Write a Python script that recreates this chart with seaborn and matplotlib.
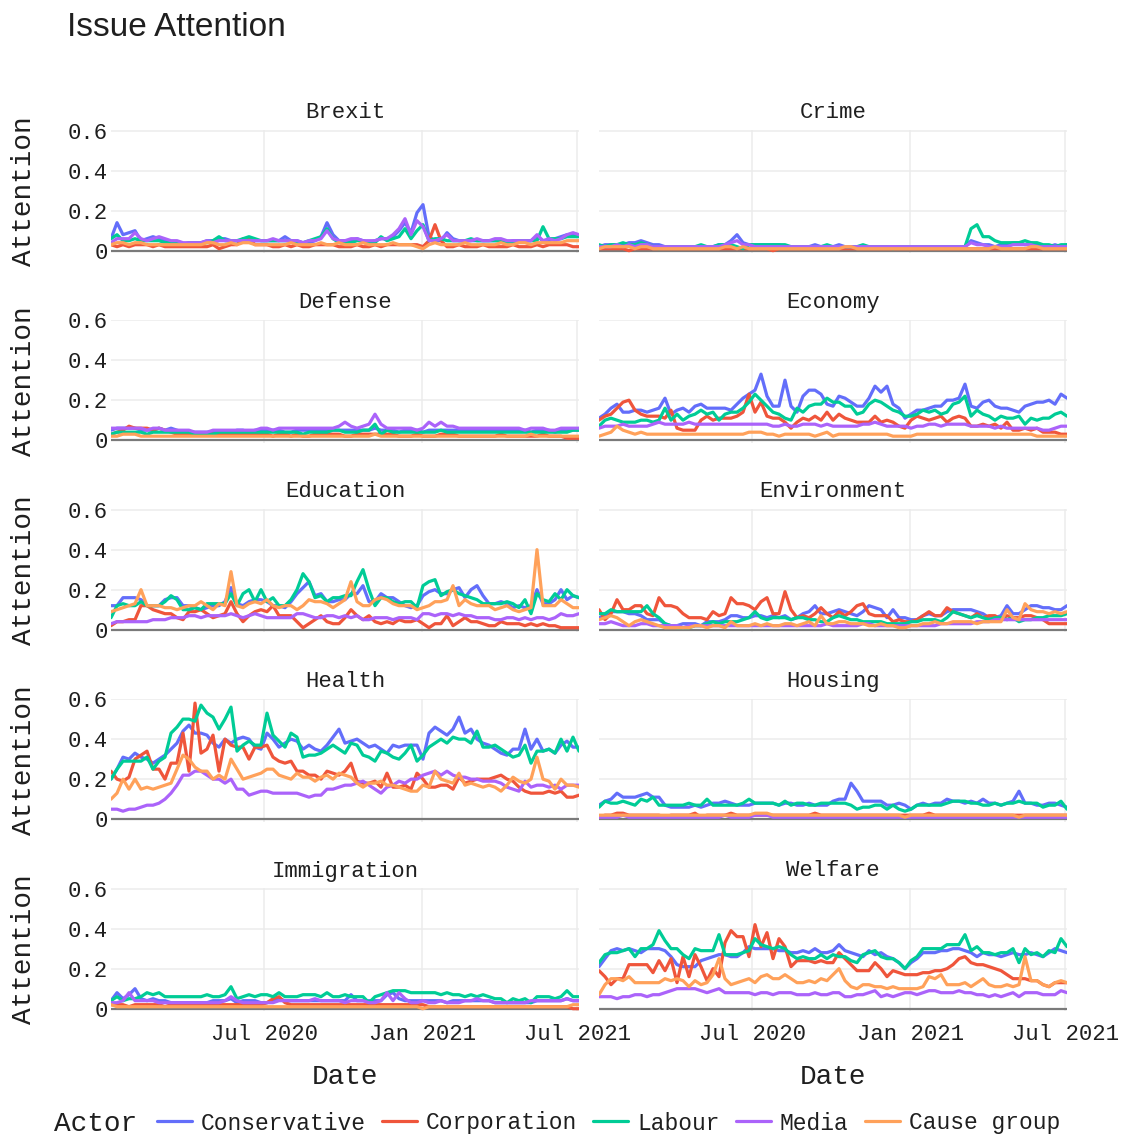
import matplotlib
matplotlib.use("Agg")
import matplotlib.pyplot as plt
from matplotlib.lines import Line2D
from matplotlib.font_manager import FontProperties
import pandas as pd
import seaborn as sns

# ---------------------------------------------------------------- data
weeks = pd.date_range("2020-01-04", periods=79, freq="7D")
actors = ["Conservative", "Corporation", "Labour", "Media", "Cause group"]
topics = ["Brexit", "Crime", "Defense", "Economy", "Education",
          "Environment", "Health", "Housing", "Immigration", "Welfare"]
actor_colors = ["#636EFA", "#EF553B", "#00CC96", "#AB63FA", "#FFA15A"]
y_ticks = [0, 0.2, 0.4, 0.6]
y_tick_labels = ["0", "0.2", "0.4", "0.6"]
x_ticks = ["2020-07-01", "2021-01-01", "2021-07-01"]
x_tick_labels = ["Jul 2020", "Jan 2021", "Jul 2021"]

brexit_conservative = [0.06,0.14,0.08,0.09,0.10,0.05,0.06,0.07,0.06,0.05,
    0.04,0.04,0.03,0.04,0.04,0.04,0.05,0.05,0.06,0.06,
    0.05,0.05,0.05,0.05,0.05,0.05,0.05,0.05,0.05,0.07,
    0.05,0.05,0.04,0.04,0.05,0.07,0.14,0.08,0.05,0.05,
    0.05,0.06,0.05,0.04,0.05,0.06,0.06,0.07,0.10,0.14,
    0.09,0.19,0.23,0.07,0.05,0.05,0.09,0.06,0.05,0.05,
    0.05,0.05,0.05,0.05,0.05,0.05,0.04,0.05,0.05,0.05,
    0.05,0.07,0.05,0.05,0.06,0.07,0.08,0.08,0.08]
brexit_corporation = [0.03,0.02,0.03,0.02,0.03,0.03,0.03,0.02,0.03,0.02,
    0.02,0.02,0.02,0.02,0.02,0.02,0.02,0.03,0.01,0.02,
    0.03,0.03,0.06,0.06,0.03,0.03,0.03,0.02,0.02,0.03,
    0.02,0.03,0.02,0.02,0.03,0.03,0.03,0.03,0.02,0.02,
    0.02,0.03,0.02,0.02,0.03,0.02,0.03,0.03,0.03,0.03,
    0.03,0.03,0.02,0.05,0.13,0.05,0.02,0.02,0.03,0.02,
    0.02,0.02,0.03,0.02,0.02,0.02,0.02,0.03,0.02,0.02,
    0.02,0.03,0.02,0.03,0.03,0.03,0.03,0.02,0.02]
brexit_labour = [0.06,0.08,0.05,0.05,0.06,0.05,0.05,0.05,0.05,0.04,
    0.04,0.04,0.03,0.04,0.04,0.04,0.04,0.05,0.07,0.05,
    0.05,0.05,0.06,0.07,0.06,0.05,0.05,0.05,0.05,0.05,
    0.05,0.04,0.04,0.05,0.06,0.07,0.11,0.06,0.04,0.04,
    0.04,0.05,0.05,0.04,0.04,0.07,0.05,0.06,0.07,0.11,
    0.06,0.10,0.13,0.05,0.06,0.06,0.05,0.05,0.05,0.05,
    0.06,0.05,0.05,0.05,0.05,0.05,0.04,0.04,0.05,0.05,
    0.05,0.05,0.12,0.06,0.06,0.06,0.07,0.07,0.07]
brexit_media = [0.04,0.06,0.06,0.06,0.09,0.06,0.05,0.06,0.07,0.06,
    0.05,0.05,0.04,0.04,0.04,0.04,0.05,0.04,0.05,0.05,
    0.05,0.05,0.05,0.05,0.05,0.05,0.05,0.06,0.05,0.05,
    0.05,0.05,0.04,0.05,0.05,0.06,0.10,0.06,0.05,0.05,
    0.06,0.06,0.05,0.05,0.05,0.06,0.06,0.08,0.11,0.16,
    0.08,0.15,0.12,0.05,0.05,0.06,0.08,0.05,0.05,0.05,
    0.05,0.06,0.05,0.05,0.06,0.06,0.05,0.05,0.05,0.05,
    0.05,0.08,0.05,0.06,0.05,0.06,0.08,0.09,0.08]
brexit_cause = [0.03,0.04,0.04,0.03,0.04,0.04,0.03,0.03,0.03,0.03,
    0.03,0.03,0.03,0.03,0.03,0.03,0.04,0.04,0.03,0.03,
    0.04,0.03,0.04,0.04,0.03,0.03,0.03,0.03,0.03,0.03,
    0.04,0.03,0.03,0.03,0.03,0.04,0.03,0.03,0.04,0.03,
    0.03,0.03,0.04,0.03,0.03,0.03,0.03,0.04,0.03,0.03,
    0.03,0.02,0.01,0.03,0.04,0.03,0.03,0.03,0.03,0.04,
    0.03,0.03,0.03,0.03,0.03,0.04,0.03,0.03,0.04,0.04,
    0.03,0.04,0.04,0.04,0.04,0.04,0.05,0.05,0.05]

crime_conservative = [0.02,0.03,0.03,0.03,0.03,0.04,0.04,0.05,0.04,0.03,
    0.03,0.02,0.02,0.02,0.02,0.02,0.02,0.02,0.02,0.02,
    0.03,0.03,0.05,0.08,0.04,0.03,0.03,0.03,0.03,0.03,
    0.03,0.02,0.02,0.02,0.02,0.02,0.03,0.02,0.02,0.02,
    0.03,0.02,0.02,0.02,0.02,0.02,0.02,0.02,0.02,0.02,
    0.02,0.02,0.02,0.02,0.02,0.02,0.02,0.02,0.02,0.02,
    0.02,0.02,0.05,0.04,0.03,0.03,0.02,0.03,0.03,0.04,
    0.04,0.03,0.04,0.03,0.02,0.02,0.03,0.02,0.03]
crime_corporation = [0.01,0.01,0.01,0.01,0.01,0.00,0.01,0.01,0.01,0.01,
    0.01,0.01,0.01,0.01,0.01,0.01,0.01,0.01,0.01,0.01,
    0.01,0.01,0.01,0.01,0.01,0.01,0.01,0.01,0.01,0.00,
    0.01,0.01,0.01,0.01,0.01,0.01,0.01,0.01,0.01,0.01,
    0.01,0.01,0.01,0.01,0.01,0.01,0.01,0.01,0.01,0.01,
    0.01,0.01,0.01,0.01,0.01,0.01,0.01,0.01,0.01,0.01,
    0.01,0.01,0.01,0.01,0.01,0.01,0.01,0.01,0.01,0.01,
    0.01,0.01,0.01,0.01,0.01,0.01,0.01,0.01,0.01]
crime_labour = [0.03,0.02,0.03,0.03,0.04,0.03,0.03,0.04,0.03,0.02,
    0.01,0.02,0.02,0.02,0.02,0.02,0.02,0.03,0.02,0.02,
    0.03,0.03,0.03,0.02,0.01,0.03,0.03,0.03,0.03,0.03,
    0.03,0.03,0.02,0.02,0.02,0.02,0.02,0.02,0.03,0.02,
    0.02,0.02,0.02,0.02,0.03,0.02,0.02,0.02,0.02,0.01,
    0.02,0.02,0.02,0.02,0.02,0.02,0.02,0.02,0.02,0.02,
    0.02,0.02,0.11,0.13,0.07,0.07,0.05,0.04,0.04,0.04,
    0.04,0.05,0.04,0.04,0.03,0.03,0.02,0.03,0.03]
crime_media = [0.02,0.02,0.02,0.03,0.02,0.03,0.02,0.03,0.03,0.02,
    0.02,0.02,0.02,0.02,0.02,0.02,0.02,0.02,0.02,0.02,
    0.02,0.03,0.04,0.05,0.03,0.03,0.02,0.02,0.02,0.02,
    0.02,0.02,0.02,0.02,0.02,0.02,0.02,0.02,0.02,0.02,
    0.02,0.02,0.02,0.02,0.02,0.02,0.02,0.02,0.02,0.02,
    0.02,0.02,0.02,0.02,0.02,0.02,0.02,0.02,0.02,0.02,
    0.02,0.02,0.04,0.03,0.03,0.02,0.02,0.02,0.02,0.03,
    0.03,0.03,0.03,0.02,0.02,0.02,0.02,0.02,0.02]
crime_cause = [0.01,0.02,0.02,0.02,0.02,0.02,0.01,0.02,0.02,0.01,
    0.01,0.01,0.01,0.01,0.01,0.01,0.01,0.01,0.01,0.01,
    0.01,0.02,0.02,0.01,0.02,0.01,0.01,0.01,0.01,0.01,
    0.01,0.01,0.01,0.01,0.01,0.01,0.01,0.01,0.01,0.01,
    0.01,0.02,0.02,0.01,0.01,0.01,0.01,0.01,0.01,0.01,
    0.01,0.01,0.01,0.01,0.01,0.01,0.01,0.01,0.01,0.01,
    0.01,0.01,0.01,0.01,0.01,0.01,0.02,0.01,0.01,0.01,
    0.01,0.01,0.02,0.02,0.01,0.01,0.01,0.01,0.01]

defense_conservative = [0.05,0.06,0.06,0.06,0.06,0.05,0.05,0.05,0.06,0.05,
    0.06,0.05,0.04,0.04,0.04,0.04,0.04,0.04,0.04,0.04,
    0.04,0.05,0.05,0.04,0.05,0.05,0.05,0.05,0.05,0.04,
    0.04,0.05,0.05,0.05,0.05,0.05,0.05,0.05,0.05,0.05,
    0.05,0.05,0.05,0.05,0.06,0.05,0.05,0.05,0.04,0.05,
    0.05,0.05,0.04,0.05,0.05,0.05,0.05,0.05,0.05,0.05,
    0.05,0.05,0.05,0.05,0.05,0.05,0.05,0.05,0.05,0.05,
    0.04,0.05,0.05,0.05,0.04,0.05,0.05,0.05,0.05]
defense_corporation = [0.03,0.04,0.05,0.07,0.06,0.06,0.06,0.05,0.06,0.05,
    0.04,0.03,0.03,0.03,0.03,0.03,0.03,0.03,0.03,0.03,
    0.03,0.03,0.03,0.03,0.03,0.03,0.03,0.02,0.03,0.03,
    0.02,0.03,0.02,0.02,0.03,0.03,0.03,0.03,0.03,0.02,
    0.02,0.03,0.03,0.03,0.03,0.03,0.03,0.03,0.02,0.02,
    0.02,0.03,0.02,0.02,0.02,0.03,0.03,0.03,0.02,0.02,
    0.02,0.02,0.02,0.02,0.02,0.03,0.02,0.02,0.02,0.02,
    0.02,0.02,0.03,0.02,0.02,0.02,0.01,0.01,0.01]
defense_labour = [0.03,0.04,0.04,0.04,0.04,0.04,0.03,0.04,0.04,0.04,
    0.04,0.04,0.04,0.04,0.03,0.03,0.03,0.03,0.04,0.04,
    0.04,0.04,0.04,0.04,0.04,0.04,0.04,0.04,0.04,0.04,
    0.04,0.04,0.03,0.04,0.04,0.04,0.04,0.05,0.05,0.04,
    0.04,0.04,0.05,0.05,0.08,0.03,0.05,0.04,0.04,0.04,
    0.04,0.04,0.04,0.04,0.04,0.05,0.04,0.04,0.04,0.04,
    0.04,0.04,0.04,0.04,0.04,0.04,0.04,0.04,0.04,0.04,
    0.04,0.04,0.04,0.04,0.04,0.04,0.04,0.05,0.05]
defense_media = [0.06,0.06,0.06,0.06,0.06,0.06,0.05,0.06,0.06,0.05,
    0.05,0.05,0.05,0.05,0.04,0.04,0.04,0.05,0.05,0.05,
    0.05,0.05,0.05,0.05,0.05,0.06,0.06,0.05,0.06,0.06,
    0.06,0.06,0.06,0.06,0.06,0.06,0.06,0.06,0.07,0.09,
    0.07,0.06,0.07,0.08,0.13,0.08,0.06,0.06,0.06,0.06,
    0.06,0.05,0.06,0.09,0.07,0.09,0.07,0.07,0.06,0.06,
    0.06,0.06,0.06,0.06,0.06,0.06,0.06,0.06,0.06,0.05,
    0.06,0.06,0.06,0.05,0.05,0.06,0.06,0.06,0.06]
defense_cause = [0.02,0.02,0.03,0.03,0.03,0.02,0.02,0.02,0.02,0.02,
    0.02,0.02,0.02,0.02,0.02,0.02,0.02,0.02,0.02,0.02,
    0.02,0.02,0.02,0.02,0.02,0.02,0.02,0.02,0.02,0.02,
    0.02,0.02,0.02,0.02,0.02,0.02,0.02,0.02,0.02,0.02,
    0.02,0.02,0.02,0.02,0.03,0.02,0.02,0.02,0.02,0.02,
    0.02,0.02,0.02,0.02,0.02,0.02,0.02,0.02,0.02,0.02,
    0.02,0.02,0.02,0.02,0.02,0.02,0.02,0.02,0.02,0.02,
    0.03,0.02,0.02,0.02,0.02,0.02,0.02,0.02,0.02]

economy_conservative = [0.11,0.13,0.16,0.18,0.14,0.14,0.15,0.15,0.14,0.15,
    0.16,0.21,0.13,0.15,0.16,0.14,0.17,0.18,0.16,0.16,
    0.16,0.16,0.15,0.18,0.21,0.23,0.25,0.33,0.22,0.17,
    0.17,0.30,0.17,0.14,0.22,0.25,0.25,0.23,0.18,0.17,
    0.22,0.21,0.19,0.17,0.17,0.21,0.27,0.24,0.27,0.18,
    0.16,0.11,0.13,0.15,0.15,0.16,0.17,0.17,0.20,0.20,
    0.21,0.28,0.17,0.16,0.19,0.20,0.17,0.16,0.16,0.15,
    0.14,0.17,0.18,0.19,0.19,0.20,0.18,0.23,0.21]
economy_corporation = [0.10,0.12,0.13,0.16,0.19,0.20,0.15,0.13,0.12,0.12,
    0.12,0.11,0.15,0.06,0.05,0.05,0.05,0.10,0.12,0.10,
    0.11,0.11,0.11,0.12,0.14,0.23,0.14,0.19,0.12,0.11,
    0.11,0.09,0.06,0.09,0.11,0.10,0.12,0.10,0.14,0.10,
    0.13,0.11,0.10,0.09,0.09,0.09,0.12,0.09,0.10,0.09,
    0.07,0.06,0.10,0.12,0.11,0.10,0.11,0.12,0.09,0.11,
    0.12,0.11,0.07,0.07,0.08,0.07,0.08,0.06,0.09,0.05,
    0.05,0.06,0.05,0.06,0.04,0.04,0.04,0.03,0.03]
economy_labour = [0.07,0.10,0.11,0.10,0.09,0.09,0.09,0.10,0.10,0.09,
    0.10,0.16,0.10,0.13,0.10,0.12,0.13,0.15,0.13,0.14,
    0.10,0.13,0.14,0.14,0.16,0.19,0.23,0.20,0.17,0.14,
    0.13,0.11,0.10,0.16,0.14,0.17,0.18,0.18,0.21,0.19,
    0.19,0.17,0.17,0.13,0.14,0.18,0.20,0.19,0.17,0.15,
    0.14,0.12,0.12,0.13,0.15,0.14,0.15,0.13,0.14,0.18,
    0.19,0.22,0.12,0.15,0.13,0.12,0.10,0.12,0.11,0.11,
    0.12,0.08,0.11,0.10,0.11,0.11,0.13,0.14,0.12]
economy_media = [0.06,0.07,0.07,0.07,0.08,0.07,0.07,0.07,0.07,0.08,
    0.09,0.08,0.08,0.08,0.08,0.09,0.08,0.08,0.08,0.08,
    0.08,0.08,0.08,0.08,0.08,0.08,0.08,0.08,0.08,0.07,
    0.07,0.08,0.07,0.07,0.08,0.08,0.08,0.07,0.08,0.07,
    0.07,0.07,0.07,0.07,0.08,0.08,0.09,0.08,0.07,0.07,
    0.07,0.07,0.06,0.07,0.07,0.08,0.08,0.07,0.08,0.08,
    0.08,0.08,0.07,0.07,0.07,0.07,0.06,0.07,0.06,0.06,
    0.06,0.06,0.06,0.06,0.05,0.05,0.06,0.07,0.07]
economy_cause = [0.02,0.03,0.04,0.07,0.05,0.04,0.03,0.04,0.03,0.03,
    0.03,0.03,0.03,0.03,0.03,0.03,0.03,0.03,0.03,0.03,
    0.03,0.03,0.03,0.03,0.03,0.04,0.04,0.04,0.03,0.03,
    0.02,0.03,0.03,0.03,0.03,0.03,0.02,0.03,0.04,0.02,
    0.03,0.03,0.03,0.03,0.03,0.03,0.03,0.03,0.03,0.02,
    0.02,0.02,0.02,0.03,0.03,0.03,0.03,0.03,0.03,0.03,
    0.03,0.03,0.03,0.03,0.03,0.03,0.03,0.03,0.03,0.03,
    0.03,0.03,0.03,0.02,0.02,0.02,0.02,0.02,0.02]

education_conservative = [0.12,0.12,0.16,0.16,0.16,0.15,0.12,0.12,0.12,0.15,
    0.16,0.16,0.12,0.12,0.11,0.10,0.11,0.12,0.12,0.14,
    0.21,0.13,0.12,0.14,0.15,0.15,0.14,0.12,0.12,0.11,
    0.14,0.18,0.21,0.24,0.17,0.18,0.14,0.14,0.15,0.15,
    0.18,0.18,0.22,0.14,0.14,0.18,0.16,0.16,0.14,0.12,
    0.11,0.12,0.17,0.19,0.20,0.18,0.18,0.20,0.21,0.16,
    0.20,0.22,0.17,0.13,0.13,0.14,0.13,0.11,0.12,0.11,
    0.12,0.20,0.13,0.13,0.15,0.20,0.15,0.17,0.16]
education_corporation = [0.02,0.04,0.04,0.05,0.05,0.12,0.12,0.10,0.09,0.08,
    0.08,0.06,0.05,0.09,0.09,0.10,0.08,0.06,0.07,0.08,
    0.14,0.08,0.04,0.07,0.09,0.10,0.09,0.12,0.07,0.07,
    0.07,0.04,0.01,0.03,0.05,0.07,0.04,0.03,0.03,0.06,
    0.10,0.07,0.05,0.07,0.04,0.03,0.04,0.03,0.05,0.04,
    0.04,0.05,0.03,0.01,0.03,0.03,0.07,0.02,0.04,0.06,
    0.04,0.04,0.03,0.02,0.02,0.04,0.03,0.03,0.03,0.02,
    0.03,0.02,0.03,0.02,0.02,0.01,0.01,0.01,0.01]
education_labour = [0.06,0.12,0.13,0.12,0.12,0.14,0.12,0.12,0.12,0.14,
    0.17,0.15,0.10,0.10,0.11,0.10,0.13,0.13,0.13,0.13,
    0.18,0.12,0.18,0.20,0.14,0.20,0.14,0.16,0.12,0.12,
    0.15,0.20,0.28,0.24,0.16,0.17,0.14,0.16,0.16,0.17,
    0.17,0.24,0.30,0.20,0.12,0.16,0.16,0.14,0.13,0.14,
    0.14,0.11,0.22,0.24,0.25,0.17,0.19,0.20,0.18,0.17,
    0.16,0.15,0.13,0.13,0.13,0.13,0.14,0.13,0.11,0.15,
    0.08,0.18,0.15,0.14,0.18,0.15,0.20,0.17,0.16]
education_media = [0.03,0.04,0.04,0.04,0.04,0.04,0.04,0.05,0.05,0.05,
    0.06,0.06,0.06,0.07,0.07,0.06,0.07,0.07,0.07,0.07,
    0.08,0.07,0.06,0.07,0.08,0.07,0.06,0.06,0.06,0.06,
    0.06,0.08,0.08,0.07,0.06,0.06,0.07,0.07,0.06,0.07,
    0.06,0.07,0.05,0.05,0.06,0.06,0.06,0.05,0.06,0.06,
    0.06,0.05,0.08,0.08,0.07,0.08,0.08,0.07,0.08,0.07,
    0.07,0.06,0.06,0.06,0.05,0.05,0.06,0.06,0.05,0.06,
    0.05,0.06,0.06,0.05,0.06,0.08,0.07,0.07,0.08]
education_cause = [0.09,0.10,0.11,0.12,0.13,0.20,0.12,0.12,0.12,0.11,
    0.11,0.10,0.11,0.12,0.12,0.14,0.12,0.10,0.13,0.12,
    0.29,0.12,0.11,0.13,0.14,0.13,0.15,0.12,0.11,0.12,
    0.12,0.10,0.12,0.15,0.14,0.14,0.13,0.11,0.13,0.15,
    0.24,0.14,0.12,0.12,0.15,0.16,0.15,0.13,0.12,0.12,
    0.12,0.10,0.11,0.12,0.14,0.14,0.15,0.22,0.12,0.15,
    0.13,0.12,0.12,0.12,0.10,0.11,0.12,0.10,0.09,0.10,
    0.11,0.40,0.12,0.12,0.12,0.15,0.13,0.11,0.11]

environment_conservative = [0.06,0.07,0.09,0.09,0.09,0.08,0.08,0.07,0.05,0.05,
    0.05,0.03,0.02,0.02,0.03,0.03,0.03,0.02,0.04,0.04,
    0.04,0.05,0.07,0.07,0.06,0.06,0.07,0.07,0.06,0.07,
    0.06,0.07,0.05,0.06,0.08,0.09,0.12,0.08,0.08,0.09,
    0.10,0.09,0.08,0.07,0.09,0.12,0.11,0.10,0.06,0.10,
    0.06,0.06,0.05,0.05,0.07,0.08,0.07,0.07,0.09,0.10,
    0.10,0.10,0.10,0.09,0.08,0.06,0.06,0.07,0.12,0.08,
    0.08,0.10,0.12,0.12,0.11,0.11,0.10,0.10,0.12]
environment_corporation = [0.10,0.05,0.08,0.15,0.10,0.10,0.12,0.12,0.08,0.07,
    0.16,0.12,0.12,0.11,0.08,0.06,0.06,0.06,0.05,0.09,
    0.07,0.08,0.16,0.13,0.13,0.12,0.10,0.14,0.16,0.08,
    0.08,0.19,0.10,0.06,0.07,0.06,0.08,0.11,0.08,0.06,
    0.09,0.07,0.09,0.12,0.13,0.08,0.07,0.07,0.07,0.04,
    0.05,0.04,0.04,0.05,0.07,0.09,0.07,0.07,0.11,0.09,
    0.08,0.07,0.06,0.08,0.06,0.07,0.07,0.05,0.07,0.06,
    0.06,0.07,0.07,0.06,0.05,0.03,0.03,0.03,0.03]
environment_labour = [0.08,0.08,0.10,0.09,0.09,0.09,0.09,0.09,0.12,0.08,
    0.06,0.03,0.02,0.01,0.01,0.01,0.02,0.02,0.03,0.04,
    0.03,0.04,0.04,0.04,0.05,0.06,0.09,0.06,0.05,0.06,
    0.06,0.06,0.05,0.06,0.06,0.05,0.05,0.04,0.04,0.06,
    0.07,0.06,0.05,0.05,0.04,0.04,0.04,0.04,0.03,0.03,
    0.03,0.03,0.04,0.04,0.05,0.05,0.05,0.04,0.06,0.09,
    0.08,0.07,0.06,0.07,0.06,0.05,0.06,0.06,0.05,0.06,
    0.04,0.05,0.05,0.06,0.06,0.07,0.07,0.07,0.08]
environment_media = [0.03,0.03,0.04,0.03,0.02,0.02,0.02,0.03,0.03,0.02,
    0.02,0.02,0.02,0.02,0.01,0.02,0.02,0.02,0.02,0.02,
    0.02,0.02,0.02,0.02,0.02,0.02,0.02,0.02,0.02,0.02,
    0.02,0.02,0.02,0.02,0.02,0.02,0.02,0.02,0.03,0.02,
    0.02,0.02,0.02,0.02,0.03,0.03,0.02,0.02,0.02,0.02,
    0.02,0.02,0.02,0.02,0.02,0.02,0.02,0.03,0.03,0.03,
    0.03,0.03,0.03,0.04,0.04,0.04,0.05,0.05,0.05,0.05,
    0.05,0.05,0.05,0.05,0.05,0.05,0.05,0.05,0.05]
environment_cause = [0.05,0.06,0.07,0.06,0.04,0.02,0.04,0.05,0.04,0.03,
    0.02,0.01,0.01,0.01,0.01,0.01,0.02,0.02,0.01,0.02,
    0.02,0.01,0.04,0.02,0.02,0.02,0.03,0.02,0.03,0.02,
    0.02,0.03,0.03,0.02,0.03,0.04,0.02,0.07,0.03,0.03,
    0.04,0.04,0.03,0.03,0.03,0.02,0.02,0.03,0.02,0.02,
    0.01,0.01,0.02,0.02,0.03,0.03,0.04,0.03,0.03,0.04,
    0.04,0.04,0.04,0.03,0.04,0.04,0.04,0.04,0.10,0.06,
    0.05,0.13,0.10,0.09,0.09,0.08,0.09,0.08,0.09]

health_conservative = [0.20,0.25,0.31,0.30,0.33,0.31,0.30,0.28,0.30,0.32,
    0.35,0.38,0.44,0.47,0.43,0.43,0.42,0.38,0.36,0.40,
    0.38,0.40,0.41,0.40,0.36,0.35,0.43,0.40,0.36,0.38,
    0.40,0.39,0.35,0.37,0.35,0.34,0.37,0.41,0.45,0.38,
    0.39,0.40,0.38,0.36,0.37,0.35,0.33,0.37,0.36,0.37,
    0.37,0.37,0.30,0.43,0.46,0.44,0.42,0.45,0.51,0.43,
    0.45,0.40,0.38,0.37,0.35,0.33,0.32,0.35,0.35,0.45,
    0.35,0.40,0.34,0.35,0.33,0.37,0.39,0.36,0.36]
health_corporation = [0.24,0.20,0.19,0.21,0.30,0.32,0.34,0.25,0.25,0.20,
    0.28,0.28,0.43,0.24,0.58,0.33,0.35,0.42,0.24,0.40,
    0.37,0.36,0.36,0.30,0.36,0.36,0.37,0.31,0.29,0.28,
    0.29,0.24,0.24,0.22,0.22,0.20,0.24,0.23,0.22,0.24,
    0.28,0.19,0.18,0.18,0.19,0.16,0.23,0.16,0.16,0.17,
    0.15,0.23,0.20,0.16,0.16,0.17,0.17,0.15,0.21,0.18,
    0.19,0.20,0.20,0.20,0.21,0.22,0.20,0.19,0.16,0.14,
    0.13,0.13,0.13,0.14,0.13,0.14,0.11,0.11,0.12]
health_labour = [0.20,0.25,0.29,0.29,0.29,0.29,0.31,0.25,0.29,0.31,
    0.43,0.46,0.50,0.50,0.49,0.57,0.53,0.51,0.45,0.50,
    0.56,0.34,0.37,0.39,0.37,0.37,0.53,0.42,0.39,0.36,
    0.43,0.41,0.31,0.32,0.32,0.33,0.35,0.37,0.35,0.33,
    0.38,0.37,0.32,0.31,0.29,0.34,0.33,0.31,0.30,0.33,
    0.37,0.29,0.32,0.36,0.38,0.40,0.38,0.41,0.40,0.40,
    0.38,0.44,0.36,0.36,0.37,0.35,0.33,0.31,0.32,0.37,
    0.28,0.34,0.34,0.35,0.33,0.40,0.34,0.41,0.34]
health_media = [0.05,0.05,0.04,0.05,0.05,0.06,0.07,0.07,0.08,0.10,
    0.13,0.17,0.22,0.22,0.24,0.24,0.22,0.20,0.20,0.18,
    0.20,0.15,0.15,0.12,0.13,0.14,0.14,0.13,0.13,0.13,
    0.13,0.13,0.12,0.11,0.12,0.12,0.15,0.15,0.16,0.17,
    0.17,0.18,0.19,0.17,0.15,0.13,0.16,0.17,0.19,0.18,
    0.20,0.20,0.22,0.23,0.24,0.22,0.24,0.22,0.21,0.21,
    0.20,0.20,0.19,0.19,0.19,0.18,0.16,0.15,0.14,0.19,
    0.16,0.17,0.17,0.16,0.17,0.15,0.17,0.17,0.17]
health_cause = [0.10,0.13,0.20,0.15,0.20,0.15,0.16,0.15,0.16,0.17,
    0.18,0.25,0.32,0.30,0.26,0.24,0.24,0.20,0.22,0.20,
    0.30,0.25,0.20,0.21,0.22,0.23,0.25,0.25,0.22,0.21,
    0.20,0.23,0.21,0.21,0.19,0.21,0.22,0.20,0.23,0.22,
    0.21,0.18,0.16,0.18,0.18,0.19,0.17,0.17,0.16,0.15,
    0.14,0.14,0.17,0.16,0.24,0.20,0.19,0.18,0.23,0.17,
    0.18,0.17,0.16,0.17,0.16,0.14,0.17,0.21,0.19,0.18,
    0.20,0.31,0.20,0.19,0.15,0.20,0.17,0.17,0.16]

housing_conservative = [0.07,0.09,0.10,0.13,0.11,0.11,0.11,0.12,0.13,0.11,
    0.11,0.07,0.06,0.06,0.06,0.06,0.07,0.06,0.07,0.08,
    0.08,0.09,0.08,0.07,0.07,0.07,0.08,0.08,0.08,0.08,
    0.07,0.08,0.08,0.07,0.07,0.08,0.07,0.07,0.07,0.09,
    0.10,0.10,0.18,0.14,0.09,0.09,0.09,0.09,0.07,0.07,
    0.08,0.07,0.05,0.07,0.08,0.07,0.08,0.08,0.10,0.09,
    0.09,0.08,0.09,0.08,0.10,0.08,0.08,0.07,0.08,0.09,
    0.14,0.08,0.08,0.07,0.07,0.08,0.08,0.07,0.06]
housing_corporation = [0.01,0.02,0.02,0.03,0.03,0.02,0.02,0.02,0.02,0.02,
    0.02,0.01,0.02,0.02,0.02,0.02,0.03,0.01,0.02,0.02,
    0.02,0.02,0.03,0.02,0.02,0.02,0.02,0.02,0.02,0.02,
    0.02,0.02,0.02,0.02,0.02,0.02,0.03,0.02,0.02,0.02,
    0.02,0.02,0.02,0.02,0.02,0.02,0.02,0.02,0.02,0.02,
    0.02,0.02,0.02,0.02,0.02,0.03,0.02,0.02,0.02,0.02,
    0.02,0.02,0.02,0.02,0.02,0.02,0.02,0.02,0.02,0.02,
    0.02,0.02,0.02,0.02,0.02,0.02,0.02,0.02,0.02]
housing_labour = [0.06,0.09,0.08,0.08,0.09,0.08,0.07,0.10,0.09,0.11,
    0.07,0.07,0.07,0.07,0.07,0.08,0.07,0.07,0.10,0.07,
    0.07,0.07,0.07,0.07,0.08,0.10,0.08,0.08,0.08,0.08,
    0.07,0.09,0.07,0.08,0.08,0.07,0.07,0.08,0.08,0.08,
    0.08,0.08,0.07,0.05,0.06,0.06,0.07,0.07,0.05,0.07,
    0.05,0.04,0.05,0.07,0.07,0.07,0.07,0.07,0.08,0.09,
    0.09,0.09,0.08,0.08,0.07,0.07,0.08,0.07,0.08,0.08,
    0.09,0.08,0.08,0.08,0.06,0.07,0.07,0.09,0.05]
housing_media = [0.01,0.01,0.01,0.01,0.02,0.01,0.01,0.01,0.01,0.01,
    0.01,0.01,0.01,0.01,0.01,0.01,0.01,0.01,0.01,0.01,
    0.01,0.02,0.01,0.01,0.01,0.01,0.02,0.02,0.02,0.01,
    0.01,0.01,0.01,0.01,0.01,0.01,0.01,0.01,0.01,0.01,
    0.01,0.01,0.01,0.01,0.01,0.01,0.01,0.01,0.01,0.01,
    0.01,0.01,0.01,0.01,0.01,0.01,0.01,0.01,0.01,0.01,
    0.01,0.01,0.01,0.01,0.01,0.01,0.01,0.01,0.01,0.01,
    0.01,0.01,0.01,0.01,0.01,0.01,0.01,0.01,0.01]
housing_cause = [0.02,0.02,0.02,0.02,0.02,0.02,0.02,0.02,0.02,0.02,
    0.02,0.02,0.02,0.02,0.02,0.02,0.02,0.02,0.02,0.02,
    0.02,0.02,0.02,0.02,0.02,0.02,0.03,0.03,0.03,0.02,
    0.02,0.02,0.02,0.02,0.02,0.02,0.02,0.02,0.02,0.02,
    0.02,0.02,0.02,0.02,0.02,0.02,0.02,0.02,0.02,0.02,
    0.02,0.01,0.02,0.02,0.02,0.02,0.02,0.02,0.02,0.02,
    0.02,0.02,0.02,0.02,0.02,0.02,0.02,0.02,0.02,0.02,
    0.01,0.02,0.02,0.02,0.02,0.02,0.02,0.02,0.02]

immigration_conservative = [0.04,0.08,0.05,0.07,0.10,0.05,0.04,0.05,0.04,0.04,
    0.03,0.03,0.03,0.03,0.03,0.03,0.03,0.04,0.04,0.04,
    0.05,0.03,0.04,0.04,0.04,0.03,0.03,0.04,0.05,0.04,
    0.04,0.04,0.04,0.04,0.04,0.04,0.04,0.04,0.04,0.04,
    0.07,0.04,0.04,0.04,0.04,0.04,0.07,0.08,0.05,0.04,
    0.04,0.04,0.04,0.04,0.04,0.04,0.03,0.04,0.04,0.04,
    0.04,0.04,0.04,0.04,0.03,0.03,0.03,0.03,0.03,0.03,
    0.03,0.04,0.04,0.04,0.04,0.04,0.05,0.04,0.04]
immigration_corporation = [0.02,0.02,0.02,0.01,0.02,0.02,0.02,0.02,0.02,0.01,
    0.02,0.02,0.02,0.02,0.02,0.02,0.02,0.02,0.02,0.02,
    0.02,0.02,0.02,0.02,0.02,0.02,0.03,0.05,0.06,0.03,
    0.02,0.02,0.02,0.02,0.02,0.02,0.02,0.02,0.02,0.02,
    0.02,0.02,0.02,0.02,0.02,0.02,0.02,0.02,0.02,0.02,
    0.02,0.02,0.02,0.01,0.01,0.01,0.01,0.01,0.01,0.01,
    0.01,0.01,0.01,0.01,0.01,0.01,0.01,0.01,0.01,0.01,
    0.01,0.01,0.01,0.01,0.01,0.01,0.01,0.00,0.00]
immigration_labour = [0.04,0.06,0.04,0.05,0.05,0.06,0.08,0.07,0.08,0.06,
    0.06,0.06,0.06,0.06,0.06,0.06,0.07,0.06,0.06,0.07,
    0.11,0.05,0.06,0.07,0.06,0.07,0.07,0.06,0.08,0.06,
    0.06,0.06,0.07,0.07,0.07,0.06,0.08,0.06,0.06,0.07,
    0.06,0.06,0.06,0.03,0.06,0.07,0.08,0.09,0.09,0.09,
    0.08,0.08,0.08,0.08,0.08,0.07,0.08,0.07,0.07,0.06,
    0.07,0.06,0.07,0.06,0.05,0.05,0.03,0.05,0.04,0.05,
    0.03,0.06,0.06,0.06,0.05,0.06,0.09,0.06,0.06]
immigration_media = [0.03,0.03,0.04,0.08,0.04,0.04,0.04,0.04,0.03,0.03,
    0.03,0.03,0.03,0.03,0.03,0.03,0.03,0.03,0.03,0.04,
    0.06,0.04,0.03,0.03,0.03,0.03,0.03,0.03,0.04,0.04,
    0.04,0.04,0.04,0.04,0.05,0.04,0.04,0.04,0.04,0.03,
    0.04,0.04,0.04,0.03,0.03,0.04,0.08,0.04,0.08,0.05,
    0.03,0.03,0.04,0.03,0.03,0.04,0.03,0.03,0.03,0.04,
    0.04,0.05,0.04,0.04,0.03,0.03,0.03,0.03,0.03,0.03,
    0.04,0.04,0.04,0.04,0.04,0.04,0.05,0.04,0.04]
immigration_cause = [0.02,0.01,0.01,0.01,0.01,0.01,0.01,0.01,0.01,0.01,
    0.01,0.01,0.01,0.01,0.01,0.01,0.01,0.01,0.01,0.01,
    0.01,0.01,0.01,0.01,0.01,0.01,0.01,0.01,0.01,0.01,
    0.01,0.01,0.01,0.01,0.01,0.01,0.01,0.01,0.01,0.01,
    0.01,0.01,0.01,0.01,0.01,0.01,0.01,0.01,0.01,0.01,
    0.01,0.01,0.00,0.01,0.01,0.01,0.01,0.01,0.01,0.01,
    0.01,0.01,0.01,0.01,0.01,0.01,0.01,0.01,0.01,0.01,
    0.01,0.01,0.01,0.01,0.01,0.01,0.01,0.02,0.02]

welfare_conservative = [0.21,0.25,0.29,0.30,0.29,0.30,0.29,0.28,0.30,0.30,
    0.30,0.29,0.26,0.22,0.21,0.21,0.21,0.24,0.25,0.26,
    0.27,0.27,0.26,0.26,0.28,0.31,0.30,0.30,0.30,0.30,
    0.29,0.29,0.28,0.28,0.29,0.28,0.30,0.28,0.28,0.29,
    0.32,0.29,0.28,0.27,0.26,0.29,0.27,0.28,0.26,0.25,
    0.23,0.20,0.23,0.25,0.28,0.28,0.28,0.29,0.29,0.30,
    0.30,0.29,0.28,0.26,0.28,0.27,0.27,0.26,0.27,0.28,
    0.27,0.27,0.28,0.27,0.26,0.28,0.30,0.29,0.28]
welfare_corporation = [0.19,0.16,0.12,0.15,0.15,0.22,0.22,0.22,0.22,0.18,
    0.24,0.19,0.25,0.13,0.26,0.16,0.27,0.21,0.14,0.20,
    0.16,0.33,0.39,0.36,0.36,0.26,0.42,0.31,0.38,0.25,
    0.35,0.31,0.21,0.24,0.24,0.24,0.23,0.24,0.23,0.23,
    0.28,0.25,0.22,0.19,0.19,0.19,0.23,0.20,0.16,0.19,
    0.18,0.17,0.17,0.17,0.18,0.18,0.19,0.19,0.20,0.22,
    0.25,0.26,0.23,0.22,0.22,0.21,0.20,0.19,0.17,0.15,
    0.15,0.15,0.14,0.14,0.12,0.11,0.13,0.13,0.13]
welfare_labour = [0.23,0.27,0.28,0.28,0.29,0.30,0.26,0.30,0.30,0.32,
    0.39,0.34,0.30,0.30,0.27,0.25,0.30,0.29,0.29,0.29,
    0.37,0.27,0.27,0.27,0.28,0.29,0.35,0.32,0.31,0.30,
    0.31,0.30,0.27,0.25,0.26,0.25,0.25,0.27,0.25,0.27,
    0.26,0.26,0.24,0.23,0.27,0.28,0.29,0.26,0.25,0.25,
    0.23,0.20,0.24,0.26,0.30,0.30,0.30,0.30,0.32,0.32,
    0.32,0.37,0.29,0.31,0.28,0.28,0.27,0.28,0.28,0.30,
    0.23,0.30,0.27,0.28,0.26,0.29,0.28,0.35,0.31]
welfare_media = [0.06,0.06,0.06,0.05,0.06,0.06,0.07,0.07,0.06,0.07,
    0.07,0.08,0.09,0.10,0.10,0.10,0.10,0.09,0.08,0.09,
    0.10,0.08,0.08,0.08,0.08,0.08,0.07,0.08,0.08,0.07,
    0.08,0.08,0.08,0.07,0.07,0.07,0.08,0.07,0.07,0.08,
    0.08,0.06,0.06,0.07,0.07,0.08,0.09,0.06,0.07,0.06,
    0.07,0.08,0.08,0.07,0.08,0.09,0.09,0.08,0.08,0.08,
    0.09,0.08,0.08,0.07,0.07,0.06,0.07,0.06,0.07,0.08,
    0.06,0.08,0.08,0.08,0.07,0.07,0.07,0.09,0.08]
welfare_cause = [0.07,0.12,0.15,0.15,0.14,0.16,0.13,0.13,0.13,0.13,
    0.13,0.15,0.14,0.15,0.14,0.11,0.14,0.12,0.13,0.17,
    0.25,0.15,0.12,0.13,0.14,0.15,0.13,0.16,0.17,0.15,
    0.15,0.17,0.15,0.13,0.13,0.14,0.13,0.15,0.14,0.17,
    0.20,0.14,0.11,0.10,0.12,0.12,0.11,0.11,0.10,0.11,
    0.10,0.10,0.10,0.10,0.11,0.16,0.15,0.17,0.12,0.12,
    0.12,0.13,0.11,0.13,0.15,0.12,0.11,0.11,0.12,0.11,
    0.12,0.26,0.14,0.14,0.12,0.11,0.13,0.14,0.13]

series = {
    "Brexit": [brexit_conservative, brexit_corporation, brexit_labour, brexit_media, brexit_cause],
    "Crime": [crime_conservative, crime_corporation, crime_labour, crime_media, crime_cause],
    "Defense": [defense_conservative, defense_corporation, defense_labour, defense_media, defense_cause],
    "Economy": [economy_conservative, economy_corporation, economy_labour, economy_media, economy_cause],
    "Education": [education_conservative, education_corporation, education_labour, education_media, education_cause],
    "Environment": [environment_conservative, environment_corporation, environment_labour, environment_media, environment_cause],
    "Health": [health_conservative, health_corporation, health_labour, health_media, health_cause],
    "Housing": [housing_conservative, housing_corporation, housing_labour, housing_media, housing_cause],
    "Immigration": [immigration_conservative, immigration_corporation, immigration_labour, immigration_media, immigration_cause],
    "Welfare": [welfare_conservative, welfare_corporation, welfare_labour, welfare_media, welfare_cause],
}

rows = []
for topic, lists in series.items():
    for actor, values in zip(actors, lists):
        if len(values) != len(weeks):
            raise ValueError(f"{topic}/{actor}: {len(values)} values")
        for d, v in zip(weeks, values):
            rows.append((topic, actor, d, v))
df = pd.DataFrame(rows, columns=["Topic", "Actor", "Date", "Attention"])

# ---------------------------------------------------------------- style
sns.set_theme(style="white")
plt.rcParams["font.family"] = ["Liberation Mono", "DejaVu Sans Mono"]
MONO = ["Liberation Mono", "DejaVu Sans Mono"]
SANS = ["Liberation Sans", "DejaVu Sans"]
TEXT = "#1f1f1f"
palette = dict(zip(actors, actor_colors))

W, H = 1132, 1140
fig = plt.figure(figsize=(W / 100, H / 100), dpi=100)
fig.patch.set_facecolor("white")

col_left = [111, 599]
panel_w = 468
row_top0, row_step, panel_h = 130.0, 189.5, 123.3

for i, topic in enumerate(topics):
    r, c = divmod(i, 2)
    top = row_top0 + row_step * r
    ax = fig.add_axes([col_left[c] / W, 1 - (top + panel_h) / H,
                       panel_w / W, panel_h / H])
    sns.lineplot(data=df[df["Topic"] == topic], x="Date", y="Attention",
                 hue="Actor", hue_order=actors, palette=palette,
                 linewidth=2.3, estimator=None, legend=False, ax=ax)
    ax.set_xlim(weeks[0], weeks[-1])
    ax.set_ylim(-0.013, 0.603)
    ax.set_yticks(y_ticks)
    ax.set_xticks(pd.to_datetime(x_ticks))
    ax.grid(True, color="#ECECEC", linewidth=1.1)
    ax.set_axisbelow(True)
    ax.axhline(0, color="#7a7a7a", linewidth=1.6, zorder=1.5)
    for s in ax.spines.values():
        s.set_visible(False)
    ax.tick_params(length=0, labelsize=16, labelcolor=TEXT)
    ax.set_xlabel("")
    ax.set_ylabel("")
    if c == 0:
        ax.set_yticklabels(y_tick_labels, family=MONO)
        ax.tick_params(axis="y", pad=2)
        fig.text(24 / W, 1 - (top + panel_h / 2) / H, "Attention",
                 rotation=90, ha="center", va="center",
                 fontsize=20, family=MONO, color=TEXT)
    else:
        ax.tick_params(labelleft=False)
    if r == 4:
        ax.set_xticklabels(x_tick_labels, family=MONO)
        ax.tick_params(axis="x", pad=9)
        fig.text((col_left[c] + panel_w / 2) / W, 1 - 1077 / H, "Date",
                 ha="center", va="center", fontsize=20, family=MONO, color=TEXT)
    else:
        ax.tick_params(labelbottom=False)
    ax.text(0.5, 1 + 17 / panel_h, topic, transform=ax.transAxes,
            ha="center", va="center", fontsize=16, family=MONO, color=TEXT)

fig.text(67 / W, 1 - 27 / H, "Issue Attention", ha="left", va="center",
         fontsize=24, family=SANS, color=TEXT)

# legend along the bottom
fig.text(54 / W, 1 - 1124 / H, "Actor", ha="left", va="center",
         fontsize=20, family=MONO, color=TEXT)
handles = [Line2D([], [], color=palette[a], linewidth=2.3) for a in actors]
fig.legend(handles, actors, loc="center left",
           bbox_to_anchor=(157 / W, 1 - 1123 / H), ncol=5, frameon=False,
           prop=FontProperties(family=MONO, size=16.5),
           handlelength=1.53, handletextpad=0.39, columnspacing=0.7,
           borderpad=0, borderaxespad=0, labelcolor=TEXT)

fig.savefig("out.png", dpi=100, facecolor="white")
